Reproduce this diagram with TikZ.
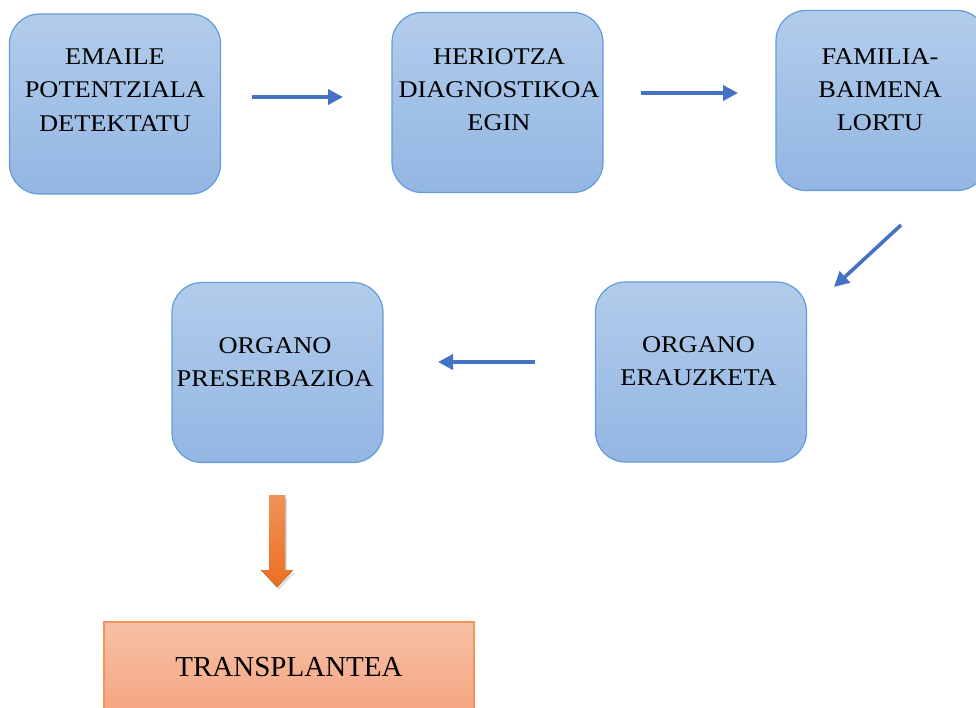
\documentclass[tikz,border=0pt]{standalone}
\usepackage{fontspec}
\setmainfont{Liberation Serif}
\newfontfamily\boxfont[FakeStretch=1.1]{Liberation Serif}
\usetikzlibrary{arrows.meta}
\definecolor{btop}{RGB}{178,204,235}
\definecolor{bbot}{RGB}{147,182,227}
\definecolor{bline}{RGB}{100,156,214}
\definecolor{arrowblue}{RGB}{68,114,196}
\definecolor{otop}{RGB}{247,192,165}
\definecolor{obot}{RGB}{245,166,130}
\definecolor{oline}{RGB}{242,148,88}
\definecolor{oarrtop}{RGB}{241,146,88}
\definecolor{oarrbot}{RGB}{236,110,30}
\begin{document}
\begin{tikzpicture}[x=1pt,y=-1pt,
  stepbox/.style={draw=bline, line width=1.2pt, rounded corners=30pt,
    top color=btop, bottom color=bbot,
    minimum width=211pt, minimum height=180pt, inner sep=0pt},
  boxtext/.style={font=\boxfont\fontsize{24}{33.3}\selectfont, align=center, inner sep=0pt},
  endbox/.style={draw=oline, line width=1.2pt, top color=otop, bottom color=obot,
    minimum width=370pt, minimum height=90pt, inner sep=0pt,
    font=\fontsize{29}{34}\selectfont},
  flow/.style={arrowblue, line width=3.6pt, -{Triangle[length=15pt,width=15pt]}},
]
\useasboundingbox (0,0) rectangle (976,707);
\clip (0,0) rectangle (976,707);

% boxes
\node[stepbox] (b1) at (115,104) {};
\node[stepbox] (b2) at (497.5,102.5) {};
\node[stepbox] (b3) at (881.5,100.5) {};
\node[stepbox] (b4) at (701,372) {};
\node[stepbox] (b5) at (277.5,372.5) {};
\node[endbox] (t) at (289,667) {TRANSPLANTEA};

% texts
\node[boxtext] (b1t) at (115,90) {EMAILE\\POTENTZIALA\\DETEKTATU};
\node[boxtext] (b2t) at (499,89.5) {HERIOTZA\\DIAGNOSTIKOA\\EGIN};
\node[boxtext] (b3t) at (880,89.5) {FAMILIA-\\BAIMENA\\LORTU};
\node[boxtext] (b4t) at (698.5,361) {ORGANO\\ERAUZKETA};
\node[boxtext] (b5t) at (275,362) {ORGANO\\PRESERBAZIOA};

% arrow end points
\coordinate (a1s) at (252,97);  \coordinate (a1e) at (343,97);
\coordinate (a2s) at (641,93);  \coordinate (a2e) at (738,93);
\coordinate (a3s) at (901,225); \coordinate (a3e) at (834,287);
\coordinate (a4s) at (535,362); \coordinate (a4e) at (438,362);

\draw[flow] (a1s) -- (a1e);
\draw[flow] (a2s) -- (a2e);
\draw[flow] (a3s) -- (a3e);
\draw[flow] (a4s) -- (a4e);

% orange block arrow
\coordinate (o1) at (277,495);
\fill[black, opacity=0.12] (271,498) -- (287,498) -- (287,573) -- (295,573) -- (279,590) -- (263,573) -- (271,573) -- cycle;
\fill[top color=oarrtop, bottom color=oarrbot]
  (269,495) -- (285,495) -- (285,570) -- (293,570) -- (277,587) -- (261,570) -- (269,570) -- cycle;
\end{tikzpicture}
\end{document}
